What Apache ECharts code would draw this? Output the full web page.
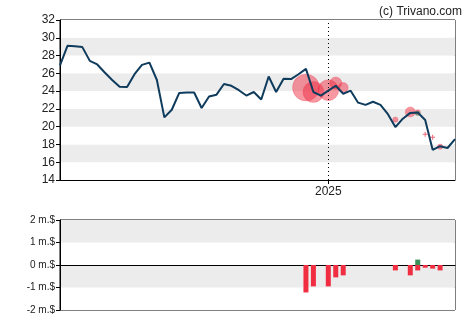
<!DOCTYPE html>
<html><head><meta charset="utf-8">
<script src="https://cdn.jsdelivr.net/npm/echarts@6/dist/echarts.min.js"></script>
<style>html,body{margin:0;padding:0;background:#fff}#c{width:470px;height:325px}</style>
</head><body><div id="c"></div>
<script>
const weeks = ['2024-04-26','2024-05-03','2024-05-10','2024-05-17','2024-05-24','2024-05-31','2024-06-07','2024-06-14','2024-06-21','2024-06-28','2024-07-05','2024-07-12','2024-07-19','2024-07-26','2024-08-02','2024-08-09','2024-08-16','2024-08-23','2024-08-30','2024-09-06','2024-09-13','2024-09-20','2024-09-27','2024-10-04','2024-10-11','2024-10-18','2024-10-25','2024-11-01','2024-11-08','2024-11-15','2024-11-22','2024-11-29','2024-12-06','2024-12-13','2024-12-20','2024-12-27','2025-01-03','2025-01-10','2025-01-17','2025-01-24','2025-01-31','2025-02-07','2025-02-14','2025-02-21','2025-02-28','2025-03-07','2025-03-14','2025-03-21','2025-03-28','2025-04-04','2025-04-11','2025-04-18','2025-04-25','2025-05-02'];
const price = [26.9,29.1,29.05,28.95,27.4,27.0,26.1,25.25,24.5,24.45,25.9,26.95,27.2,25.25,21.05,21.9,23.8,23.85,23.85,22.1,23.4,23.6,24.8,24.6,24.1,23.5,23.9,23.05,25.65,23.9,25.4,25.35,25.9,26.5,23.9,23.5,24.05,24.6,23.7,24.05,22.7,22.45,22.8,22.45,21.4,19.95,20.9,21.55,21.6,20.75,17.4,17.8,17.6,18.6];
const yearLabel = '2025';
const yearWeek = '2025-01-03';
const priceTicks = [14,32,2];
const flowTicks = [-2,2,1];
// insider sells: week, price, amount (m.$)
const sellWeek = ['2024-12-13','2024-12-20','2025-01-03','2025-01-10','2025-01-17','2025-03-07','2025-03-21','2025-03-28','2025-04-04','2025-04-11','2025-04-18'];
const sellPrice = [24.4,23.9,24.1,24.9,24.4,20.8,21.65,21.6,19.15,18.8,17.75];
const sellAmount = [-1.22,-0.95,-0.95,-0.55,-0.46,-0.24,-0.46,-0.24,-0.12,-0.16,-0.24];
// insider buys
const buyWeek = ['2025-03-28'];
const buyPrice = [21.5];
const buyAmount = [0.24];

const sellBars = weeks.map(w => { const k = sellWeek.indexOf(w); return k < 0 ? null : sellAmount[k]; });
const buyBars = weeks.map(w => { const k = buyWeek.indexOf(w); return k < 0 ? null : buyAmount[k]; });
const bigSells = [], smallSells = [];
sellWeek.forEach((w, k) => {
  const p = [w, sellPrice[k], sellAmount[k]];
  (Math.abs(sellAmount[k]) < 0.2 ? smallSells : bigSells).push(p);
});
const buys = buyWeek.map((w, k) => [w, buyPrice[k], buyAmount[k]]);

const font = 'Liberation Sans';
const chart = echarts.init(document.getElementById('c'));
chart.setOption({
  animation: false,
  textStyle: {fontFamily: font},
  title: {text: '(c) Trivano.com', right: 3, top: 1, textStyle: {fontSize: 12, fontWeight: 'normal', color: '#222', fontFamily: font}},
  grid: [
    {left: 60, right: 15, top: 20, height: 160, show: true, borderColor: '#000', borderWidth: 1, backgroundColor: 'transparent'},
    {left: 60, right: 15, top: 220, height: 90, show: true, borderColor: '#000', borderWidth: 1, backgroundColor: 'transparent'}
  ],
  xAxis: [
    {type: 'category', gridIndex: 0, data: weeks, boundaryGap: false,
     axisLine: {show: true, lineStyle: {color: '#000'}},
     axisTick: {show: true, length: 4, interval: (i, v) => v === yearWeek, lineStyle: {color: '#000'}},
     axisLabel: {show: true, interval: (i, v) => v === yearWeek, formatter: v => v === yearWeek ? yearLabel : '', color: '#222', fontSize: 12, margin: 6},
     splitLine: {show: false}},
    {type: 'category', gridIndex: 1, data: weeks, boundaryGap: false,
     axisLine: {show: true, onZero: true, lineStyle: {color: '#000', width: 1}},
     axisTick: {show: false}, axisLabel: {show: false}, splitLine: {show: false}}
  ],
  yAxis: [
    {type: 'value', gridIndex: 0, min: priceTicks[0], max: priceTicks[1], interval: priceTicks[2],
     axisLine: {show: true, lineStyle: {color: '#000'}},
     axisTick: {show: true, length: 4, lineStyle: {color: '#000'}},
     axisLabel: {color: '#222', fontSize: 12, margin: 5},
     splitLine: {show: false},
     splitArea: {show: true, areaStyle: {color: ['#ffffff', '#ececec']}}},
    {type: 'value', gridIndex: 1, min: flowTicks[0], max: flowTicks[1], interval: flowTicks[2],
     axisLine: {show: true, lineStyle: {color: '#000'}},
     axisTick: {show: true, length: 4, lineStyle: {color: '#000'}},
     axisLabel: {color: '#222', fontSize: 10, margin: 5, formatter: v => v + ' m.$'},
     splitLine: {show: false},
     splitArea: {show: true, areaStyle: {color: ['#ffffff', '#ececec']}}}
  ],
  series: [
    {type: 'scatter', xAxisIndex: 0, yAxisIndex: 0, data: bigSells, z: 2,
     symbolSize: v => Math.abs(v[2]) * 22,
     itemStyle: {color: 'rgba(238,40,62,0.6)', borderColor: 'rgba(238,40,62,0.3)', borderWidth: 1}},
    {type: 'scatter', xAxisIndex: 0, yAxisIndex: 0, data: smallSells, z: 2,
     symbol: 'path://M2,0H3V2H5V3H3V5H2V3H0V2H2Z', symbolSize: 5,
     itemStyle: {color: 'rgba(240,45,65,0.9)'}},
    {type: 'scatter', xAxisIndex: 0, yAxisIndex: 0, data: buys, z: 3,
     symbolSize: v => Math.abs(v[2]) * 22,
     itemStyle: {color: 'rgba(60,140,90,0.6)'}},
    {type: 'line', xAxisIndex: 0, yAxisIndex: 0, data: price, z: 5,
     symbol: 'none', lineStyle: {color: '#0f3b5c', width: 2},
     markLine: {silent: true, symbol: 'none', label: {show: false},
       lineStyle: {color: '#000', type: [1, 3], width: 1},
       data: [{xAxis: yearWeek}]}},
    {type: 'bar', xAxisIndex: 1, yAxisIndex: 1, data: sellBars, barWidth: 5, barGap: '-100%',
     itemStyle: {color: '#f02d41'}},
    {type: 'bar', xAxisIndex: 1, yAxisIndex: 1, data: buyBars, barWidth: 5, barGap: '-100%',
     itemStyle: {color: '#3a8f5a'}}
  ]
});
</script></body></html>
